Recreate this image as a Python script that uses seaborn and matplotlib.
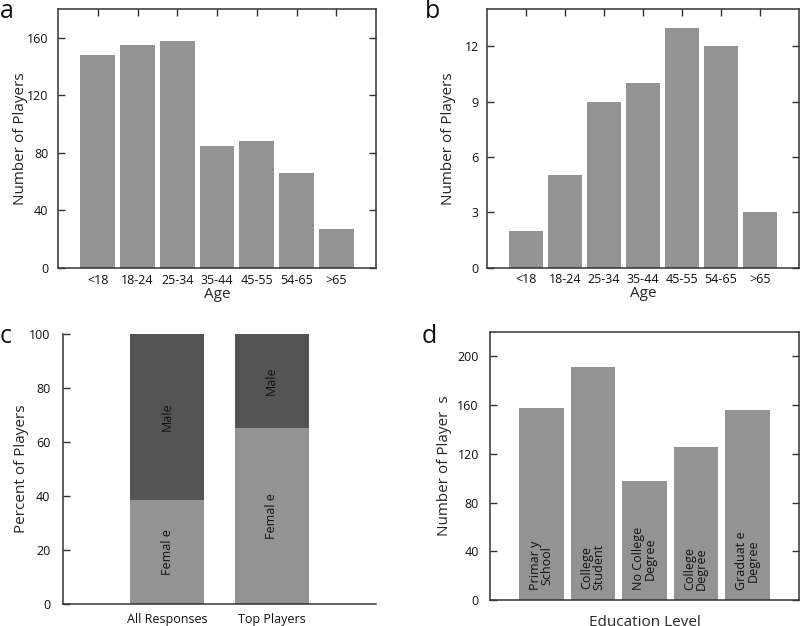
import matplotlib
matplotlib.use("Agg")
import matplotlib.pyplot as plt
import seaborn as sns
import pandas as pd

sns.set_theme(style="white")
plt.rcParams['font.family'] = ['Open Sans', 'DejaVu Sans']

# ---- data ----
age_groups = ["<18", "18-24", "25-34", "35-44", "45-55", "54-65", ">65"]
age_all = [148, 155, 158, 85, 88, 66, 27]
age_top = [2, 5, 9, 10, 13, 12, 3]

gender_groups = ["All Responses", "Top Players"]
female_pct = [38.4, 65.3]
male_pct = [61.6, 34.7]

edu_levels = ["Primar y\nSchool", "College\nStudent", "No College\nDegree",
              "College\nDegree", "Graduat e\nDegree"]
edu_counts = [158, 191, 98, 126, 156]

LIGHT = "#939393"
DARK = "#545454"
SPINE = "#333333"

fig = plt.figure(figsize=(8, 6.26), dpi=100)

ax_a = fig.add_axes([0.0725, 0.5719, 0.3975, 0.4137])
ax_b = fig.add_axes([0.609, 0.5724, 0.3897, 0.4128])
ax_c = fig.add_axes([0.0784, 0.0347, 0.3916, 0.4322])
ax_d = fig.add_axes([0.6125, 0.0415, 0.3862, 0.4281])

TICK_FS = 9
LAB_FS = 11
BAR_KW = dict(saturation=1, linewidth=0)


def style_box(ax, ypad, top_ticks=True):
    for s in ax.spines.values():
        s.set_color(SPINE)
        s.set_linewidth(1.1)
    ax.tick_params(axis='both', direction='in', length=5, width=1.0,
                   color=SPINE, labelsize=TICK_FS, labelcolor="#111111")
    ax.tick_params(axis='y', left=True, right=True, pad=ypad)
    ax.tick_params(axis='x', bottom=False, top=top_ticks, pad=4)


# panel a
df_a = pd.DataFrame({"age": age_groups, "n": age_all})
sns.barplot(data=df_a, x="age", y="n", color=LIGHT, width=0.87, ax=ax_a,
            **BAR_KW)
ax_a.set_xlim(-1, 7)
ax_a.set_ylim(0, 180)
ax_a.set_yticks([0, 40, 80, 120, 160])
style_box(ax_a, ypad=7)
ax_a.set_xlabel("Age", fontsize=LAB_FS, labelpad=0)
ax_a.set_ylabel("Number of Players", fontsize=LAB_FS, labelpad=-1)

# panel b
df_b = pd.DataFrame({"age": age_groups, "n": age_top})
sns.barplot(data=df_b, x="age", y="n", color=LIGHT, width=0.87, ax=ax_b,
            **BAR_KW)
ax_b.set_xlim(-1, 7)
ax_b.set_ylim(0, 14)
ax_b.set_yticks([0, 3, 6, 9, 12])
style_box(ax_b, ypad=6)
ax_b.set_xlabel("Age", fontsize=LAB_FS, labelpad=0)
ax_b.set_ylabel("Number of Players", fontsize=LAB_FS, labelpad=6)

# panel c (stacked)
df_c = pd.DataFrame({"grp": gender_groups, "female": female_pct,
                     "male": male_pct})
df_c["total"] = df_c["female"] + df_c["male"]
sns.barplot(data=df_c, x="grp", y="total", color=DARK, width=0.71, ax=ax_c,
            **BAR_KW)
sns.barplot(data=df_c, x="grp", y="female", color=LIGHT, width=0.71, ax=ax_c,
            **BAR_KW)
ax_c.set_xlim(-1, 2)
ax_c.set_ylim(0, 100)
ax_c.set_yticks([0, 20, 40, 60, 80, 100])
for s in ["top", "right"]:
    ax_c.spines[s].set_visible(False)
for s in ["left", "bottom"]:
    ax_c.spines[s].set_color(SPINE)
    ax_c.spines[s].set_linewidth(1.1)
ax_c.tick_params(axis='y', direction='in', length=5, width=1.0, color=SPINE,
                 labelsize=TICK_FS, labelcolor="#111111", pad=9, left=True)
ax_c.tick_params(axis='x', bottom=False, labelsize=TICK_FS,
                 labelcolor="#111111", pad=0)
ax_c.set_xlabel("")
ax_c.set_ylabel("Percent of Players", fontsize=LAB_FS, labelpad=0)
for i in range(len(gender_groups)):
    f = female_pct[i]
    m = male_pct[i]
    ax_c.text(i, f / 2, "Femal e", rotation=90, ha="center", va="center",
              fontsize=TICK_FS, color="#111111")
    ax_c.text(i, f + m / 2, "Male", rotation=90, ha="center", va="center",
              fontsize=TICK_FS, color="#111111")

# panel d
df_d = pd.DataFrame({"edu": edu_levels, "n": edu_counts})
sns.barplot(data=df_d, x="edu", y="n", color=LIGHT, width=0.87, ax=ax_d,
            **BAR_KW)
ax_d.set_xlim(-1, 5)
ax_d.set_ylim(0, 220)
ax_d.set_yticks([0, 40, 80, 120, 160, 200])
style_box(ax_d, ypad=8, top_ticks=False)
ax_d.set_xticklabels([])
ax_d.set_xlabel("Education Level", fontsize=LAB_FS, labelpad=7)
ax_d.set_ylabel("Number of Player  s", fontsize=LAB_FS, labelpad=4)
for i, lab in enumerate(edu_levels):
    ax_d.text(i, 8, lab, rotation=90, ha="center", va="bottom",
              fontsize=TICK_FS, color="#111111", linespacing=0.85)

# panel letters
for x, y, s in [(0.0, 0.971, "a"), (0.531, 0.971, "b"),
                (0.0, 0.452, "c"), (0.5275, 0.452, "d")]:
    fig.text(x, y, s, fontsize=18, ha="left", va="baseline",
             color="#111111")

fig.savefig("out.png", dpi=100)
